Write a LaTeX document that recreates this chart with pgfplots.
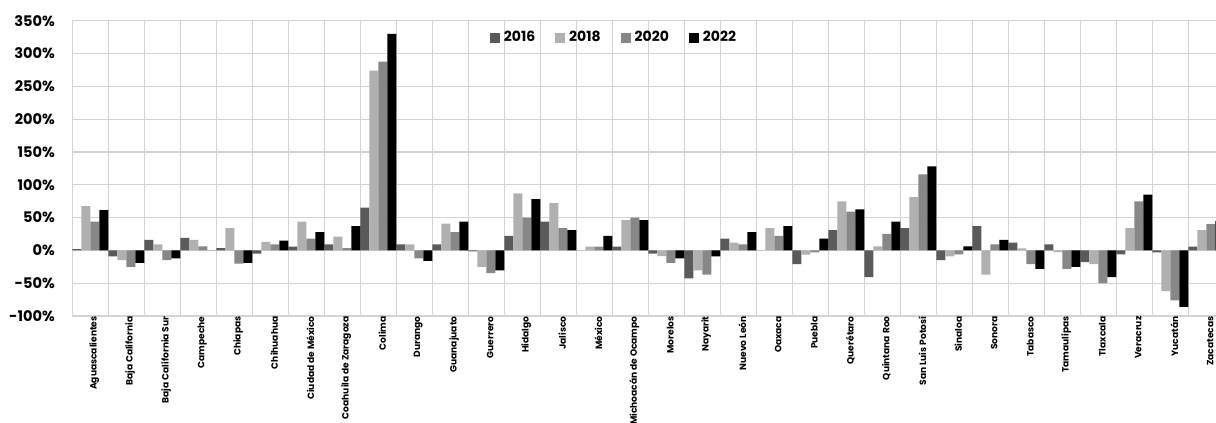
\documentclass[border=0pt]{standalone}
\usepackage{fontspec}
\setmainfont{Poppins}
\usepackage{pgfplots}
\usepackage{pgfplotstable}
\pgfplotsset{compat=1.18}
\definecolor{c16}{HTML}{5A5A5A}
\definecolor{c18}{HTML}{B0B0B0}
\definecolor{c20}{HTML}{878787}
\definecolor{c22}{HTML}{000000}
\definecolor{gridc}{HTML}{D3D3D3}

\pgfplotstableread{
x v16 v18 v20 v22
0 2 67.6 44 61.5
1 -9 -15 -25 -19
2 16 9 -15 -12
3 19 16 6 0
4 3.5 34 -20 -19
5 -5 13 9 15
6 5.6 43.7 18 28
7 9 21 3.5 37
8 65 274 287.5 330
9 9 9 -12 -16
10 9 40.6 28 43.7
11 -1.5 -25 -34.5 -30.5
12 22 87 50 78
13 43.7 72 34 31
14 0 5.6 5.6 22
15 5.6 46 50 46
16 -5 -8.6 -19 -12
17 -42.7 -30.5 -37 -9
18 18 12 9 28
19 0 34 22 37
20 -21 -6.6 -3 18
21 31 74.7 59 62.5
22 -40.6 6 25 43.7
23 34 81 116 128
24 -15 -9 -6 6
25 37 -37 9 16
26 12 3 -21 -28
27 9 -2.5 -28 -25
28 -18 -21 -50 -40.6
29 -6 34 74.7 85
30 -3 -62 -76 -86
31 5.6 31 40 45
}\data

\begin{document}
\begin{tikzpicture}
\begin{axis}[
  scale only axis,
  width=571.85pt, height=147.65pt,
  at={(0,0)}, anchor=south west,
  xmin=-0.5, xmax=31.27, ymin=-100, ymax=350,
  enlargelimits=false,
  axis line style={draw=none},
  ybar=0pt, bar width=4.5pt,
  xtick={0,...,31},
  xticklabels={Aguascalientes,Baja California,Baja California Sur,Campeche,Chiapas,Chihuahua,Ciudad de México,Coahuila de Zaragoza,Colima,Durango,Guanajuato,Guerrero,Hidalgo,Jalisco,México,Michoacán de Ocampo,Morelos,Nayarit,Nuevo León,Oaxaca,Puebla,Querétaro,Quintana Roo,San Luis Potosí,Sinaloa,Sonora,Tabasco,Tamaulipas,Tlaxcala,Veracruz,Yucatán,Zacatecas},
  minor xtick={-0.5,0.5,...,31.5},
  xminorgrids, ymajorgrids,
  minor grid style={gridc, line width=0.6pt},
  major grid style={gridc, line width=0.6pt},
  major tick length=0pt, minor tick length=0pt,
  ytick={-100,-50,...,350},
  yticklabels={-100\%,-50\%,0\%,50\%,100\%,150\%,200\%,250\%,300\%,350\%},
  yticklabel style={font=\bfseries\fontsize{7.3}{8}\selectfont, anchor=east, inner sep=0pt, xshift=-8.5pt},
  xticklabel style={font=\bfseries\fontsize{4.55}{5}\selectfont, rotate=90, anchor=east, inner sep=0pt, yshift=-2pt},
  legend columns=4,
  legend style={at={(0.4745,0.9424)}, anchor=center, draw=none, fill=none,
    font=\bfseries\fontsize{7}{8}\selectfont,
    /tikz/every even column/.append style={column sep=8pt}},
  legend image code/.code={\fill[#1] (0pt,-2.5pt) rectangle (5pt,2.5pt);},
]
\addplot[fill=c16, draw=none] table[x=x, y=v16] {\data};
\addplot[fill=c18, draw=none] table[x=x, y=v18] {\data};
\addplot[fill=c20, draw=none] table[x=x, y=v20] {\data};
\addplot[fill=c22, draw=none] table[x=x, y=v22] {\data};
\legend{2016,2018,2020,2022}
\end{axis}
\pgfresetboundingbox
\path[use as bounding box] (-36.15pt,-53.5pt) rectangle (571.85pt,158pt);
\end{tikzpicture}
\end{document}
